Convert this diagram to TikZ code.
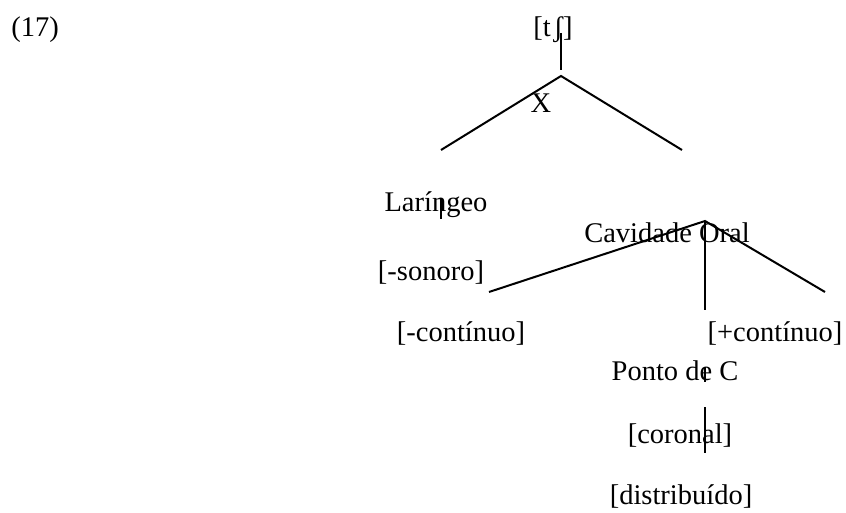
\documentclass[tikz,border=0pt]{standalone}
\usepackage{fontspec}
\setmainfont{Liberation Serif}
\begin{document}
\begin{tikzpicture}[x=0.5pt,y=-0.5pt,
  lbl/.style={anchor=base,inner sep=0pt,font=\fontsize{14.25}{17}\selectfont},
  ln/.style={line width=1pt}]
\useasboundingbox (0,0) rectangle (846,513);
% labels
\node[lbl] (num) at (35,37) {(17)};
\node[lbl] (top) at (553,37) {[t\kern1.5ptʃ]};
\node[lbl] (x) at (541,113) {X};
\node[lbl] (lar) at (436,212) {Laríngeo};
\node[lbl] (son) at (431,281) {[-sonoro]};
\node[lbl] (cav) at (667,243) {Cavidade Oral};
\node[lbl] (mcont) at (461,342) {[-contínuo]};
\node[lbl] (pcont) at (775,342) {[+contínuo]};
\node[lbl] (pc) at (675,380) {Ponto de C};
\node[lbl] (cor) at (680,443) {[coronal]};
\node[lbl] (dist) at (681,504) {[distribuído]};
% line ends
\coordinate (t1) at (561,33);
\coordinate (t2) at (561,70);
\coordinate (ax) at (561,76);
\coordinate (xl) at (441,150);
\coordinate (xr) at (682,150);
\coordinate (l1) at (441,198);
\coordinate (l2) at (441,219);
\coordinate (ac) at (705,221);
\coordinate (cl) at (489,292);
\coordinate (cm) at (705,310);
\coordinate (cr) at (825,292);
\coordinate (p1) at (705,367);
\coordinate (p2) at (705,382);
\coordinate (k1) at (705,407);
\coordinate (k2) at (705,453);
% lines
\draw[ln] (t1) -- (t2);
\draw[ln] (xl) -- (ax) -- (xr);
\draw[ln] (l1) -- (l2);
\draw[ln] (cl) -- (ac) -- (cr);
\draw[ln] (ac) -- (cm);
\draw[ln] (p1) -- (p2);
\draw[ln] (k1) -- (k2);
\end{tikzpicture}
\end{document}
